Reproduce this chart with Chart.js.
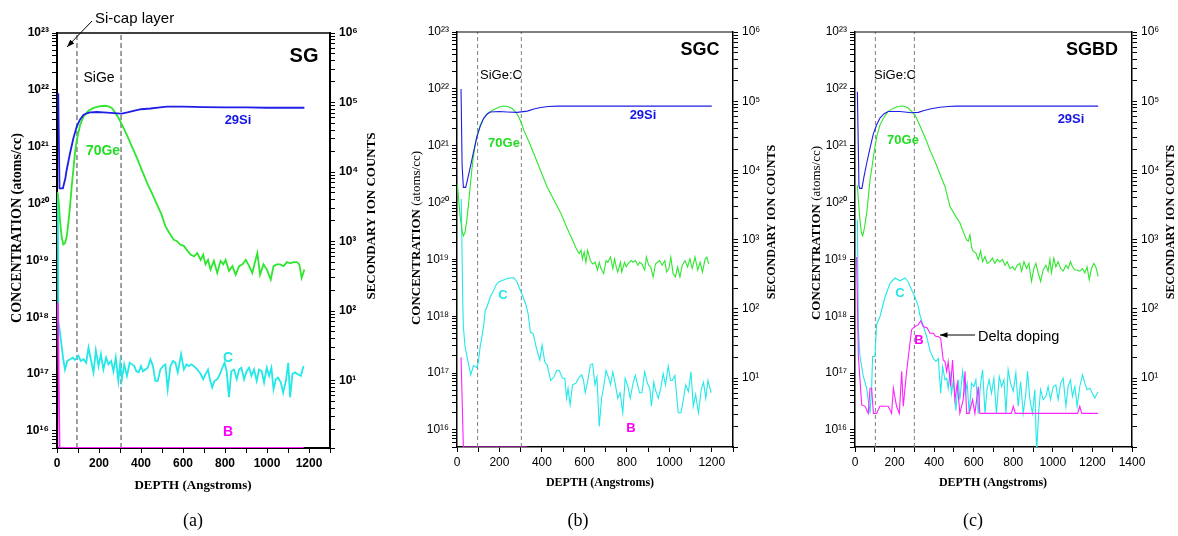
<!DOCTYPE html>
<html>
<head>
<meta charset="utf-8">
<script src="https://cdn.jsdelivr.net/npm/chart.js@4.4.1/dist/chart.umd.min.js"></script>
<style>
  body { margin: 0; background: #fff; }
  #wrap { position: relative; width: 1178px; height: 536px; overflow: hidden; }
  canvas { position: absolute; top: 0; }
</style>
</head>
<body>
<div id="wrap">
  <canvas id="panel-a" width="400" height="536" style="left:0px"></canvas>
  <canvas id="panel-b" width="390" height="536" style="left:400px"></canvas>
  <canvas id="panel-c" width="388" height="536" style="left:790px"></canvas>
</div>
<script>
// ---- panel (a) SG ----
const depthSiA = [6, 12, 28, 40, 46, 62, 78, 94, 110, 126, 142, 158, 190, 221, 255, 285, 309, 335, 365, 400, 445, 490, 524, 600, 700, 800, 900, 1000, 1100, 1178];
const siA = [1.36e5, 5.8e3, 5.8e3, 8.2e3, 1.07e4, 1.86e4, 3.06e4, 4.5e4, 5.7e4, 6.6e4, 7.0e4, 7.2e4, 7.3e4, 7.2e4, 7.1e4, 7.0e4, 6.9e4, 7.2e4, 7.6e4, 8.0e4, 8.2e4, 8.5e4, 8.7e4, 8.7e4, 8.6e4, 8.5e4, 8.5e4, 8.4e4, 8.4e4, 8.4e4];

const depthGeA = [2, 8, 14, 22, 30, 38, 46, 54, 62, 70, 78, 86, 94, 110, 126, 150, 174, 200, 229, 245,
  261, 277, 293, 313, 333, 357, 381, 405, 429, 453, 477, 497, 516, 536, 556, 570, 586, 604, 620, 636,
  652, 668, 684, 696, 707, 719, 731, 747, 763, 779, 792, 803, 819, 835, 851, 867, 883, 899, 915, 930,
  942, 954, 967, 983, 999, 1018, 1031, 1047, 1063, 1079, 1095, 1111, 1126, 1142, 1154, 1165, 1178];
const geA = [1.6e20, 1.1e20, 5.2e19, 2.6e19, 1.9e19, 2.0e19, 2.6e19, 4.5e19, 8.9e19, 2.0e20, 4.0e20, 8.0e20, 1.3e21, 2.4e21, 3.4e21, 4.3e21, 4.8e21, 5.1e21, 5.25e21, 5.1e21,
  4.8e21, 4.0e21, 3.2e21, 2.3e21, 1.6e21, 1.0e21, 6.3e20, 3.8e20, 2.3e20, 1.5e20, 9.5e19, 6.5e19, 4.0e19, 3.0e19, 2.3e19, 2.2e19, 1.9e19, 1.8e19, 1.5e19, 1.26e19,
  1.17e19, 1.35e19, 1.02e19, 1.26e19, 8.5e18, 1.02e19, 6.9e18, 9.8e18, 6.0e18, 9.8e18, 8.5e18, 1.02e19, 6.5e18, 7.9e18, 5.6e18, 7.9e18, 8.5e18, 1.02e19, 7.9e18, 6.0e18,
  9.1e18, 1.35e19, 5.6e18, 8.5e18, 6.9e18, 4.6e18, 7.9e18, 8.5e18, 8.5e18, 7.9e18, 9.3e18, 8.9e18, 9.3e18, 9.3e18, 8.5e18, 4.9e18, 6.9e18];

const depthCA = [4, 6, 14, 22, 30, 38, 49, 63, 75, 86, 102, 113, 126, 139, 150, 161, 174, 185, 198, 209,
  221, 234, 245, 258, 269, 280, 292, 301, 309, 320, 333, 346, 357, 368, 378, 389, 400, 409, 421, 432,
  445, 457, 468, 480, 492, 505, 516, 527, 540, 553, 564, 575, 591, 604, 617, 628, 639, 652, 668, 684,
  696, 707, 719, 728, 739, 750, 763, 776, 787, 798, 808, 819, 830, 843, 856, 867, 878, 891, 903, 915,
  926, 938, 951, 962, 975, 986, 999, 1010, 1021, 1031, 1042, 1053, 1066, 1077, 1090, 1101, 1110, 1121, 1133, 1145,
  1161, 1174];
const cA = [1.5e20, 9e17, 5.4e17, 3.1e17, 1.8e17, 1.2e17, 1.7e17, 1.82e17, 1.95e17, 1.77e17, 2.1e17, 1.7e17, 1.82e17, 1.58e17, 2.9e17, 1.82e17, 1.07e17, 2.6e17, 1.38e17, 2.24e17,
  1.2e17, 1.95e17, 1.48e17, 1.7e17, 1.12e17, 1.95e17, 7.6e16, 1.58e17, 8.1e16, 1.48e17, 9.3e16, 1.58e17, 1.48e17, 1.38e17, 1.12e17, 1.07e17, 1.38e17, 1.12e17, 1.2e17, 1.29e17,
  1.82e17, 1.38e17, 7.6e16, 7.6e16, 1.2e17, 1.38e17, 1.48e17, 5.4e16, 1.38e17, 1.7e17, 1.58e17, 1.07e17, 2.24e17, 1.2e17, 1.48e17, 1.38e17, 1.48e17, 1.38e17, 1.2e17, 1.0e17,
  8.1e16, 1.0e17, 1.2e17, 8.1e16, 5.8e16, 7.6e16, 8.1e16, 1.0e17, 1.29e17, 1.58e17, 1.12e17, 3.9e16, 1.12e17, 1.2e17, 8.1e16, 1.2e17, 1.29e17, 8.1e16, 1.12e17, 1.29e17,
  9.3e16, 1.2e17, 7.6e16, 1.2e17, 1.12e17, 7.1e16, 1.29e17, 9.3e16, 1.29e17, 5.4e16, 8.1e16, 8.7e16, 7.1e16, 4.7e16, 7.6e16, 1.58e17, 3.9e16, 1.0e17, 1.07e17, 1.0e17,
  9.3e16, 1.38e17];

const depthBA = [4, 12, 1175];
const bA = [1.8e18, 5e15, 5e15];
const layersA = [95, 305];

// ---- panel (b) SGC ----
const depthSiB = [19, 24, 30, 41, 50, 62, 77, 93, 109, 125, 141, 157, 200, 236, 283, 331, 362, 394, 430, 473, 600, 800, 1000, 1200];
const siB = [1.5e5, 1.2e4, 5.7e3, 5.7e3, 7.5e3, 1.1e4, 1.8e4, 3.0e4, 4.3e4, 5.6e4, 6.5e4, 7.0e4, 7.1e4, 7.0e4, 6.9e4, 7.2e4, 7.7e4, 8.1e4, 8.4e4, 8.5e4, 8.5e4, 8.5e4, 8.5e4, 8.5e4];

const depthGeB = [2, 10, 17, 24, 30, 38, 46, 54, 62, 70, 77, 85, 93, 109, 125, 148, 172, 200, 220, 240,
  260, 280, 291, 303, 315, 338, 362, 393, 425, 457, 489, 515, 544, 560,
  575, 584, 591, 599, 607, 615, 628, 639, 650, 662, 670, 678, 691, 702, 710, 723, 734, 742, 750, 757,
  770, 776, 789, 797, 805, 821, 829, 840, 852, 860, 871, 884, 892, 903, 912, 924, 935, 944, 955, 966,
  979, 987, 998, 1007, 1018, 1029, 1039, 1050, 1061, 1074, 1086, 1097, 1108, 1121, 1134, 1145, 1156, 1169, 1177, 1185];
const geB = [2.1e20, 9e19, 4.9e19, 3.2e19, 2.6e19, 3.0e19, 4.9e19, 9e19, 1.9e20, 3.8e20, 6.3e20, 1.0e21, 1.45e21, 2.3e21, 3.0e21, 3.8e21, 4.3e21, 4.8e21, 5.0e21, 4.9e21,
  4.5e21, 3.8e21, 3.2e21, 2.5e21, 1.86e21, 1.2e21, 7.2e20, 3.7e20, 1.86e20, 1.1e20, 6.5e19, 3.8e19, 2.2e19, 1.6e19,
  1.26e19, 1.45e19, 1.02e19, 1.35e19, 8.9e18, 1.45e19, 9.5e18, 8.3e18, 8.9e18, 6.5e18, 8.9e18, 6.9e18, 5.6e18, 9.5e18, 8.9e18, 1.1e19, 6.9e18, 1.02e19, 7.4e18, 6.0e18,
  8.9e18, 6.0e18, 8.9e18, 7.4e18, 8.3e18, 9.5e18, 8.9e18, 9.5e18, 7.9e18, 8.9e18, 8.3e18, 6.5e18, 1.1e19, 7.9e18, 7.4e18, 4.9e18, 8.3e18, 8.9e18, 9.5e18, 7.9e18,
  9.5e18, 6.0e18, 6.9e18, 1.1e19, 5.6e18, 4.9e18, 7.4e18, 4.9e18, 7.9e18, 9.5e18, 7.4e18, 1.02e19, 6.9e18, 1.1e19, 6.5e18, 8.9e18, 6.0e18, 1.02e19, 1.1e19, 8.3e18];

const depthCB = [20, 27, 30, 38, 54, 65, 77, 93, 100, 109, 117, 125, 133, 141, 157, 172, 185, 196, 210, 236,
  250, 267, 283, 299, 311, 323, 335, 346, 359, 374, 390, 401, 413, 425, 441, 457, 470, 481, 497, 508,
  516, 523, 533, 544, 560, 572, 587, 596, 604, 615, 628, 639, 650, 659, 670, 681, 691, 702, 713, 723,
  734, 745, 757, 768, 781, 792, 805, 816, 829, 840, 849, 860, 871, 884, 897, 908, 916, 927, 935, 948,
  960, 971, 982, 995, 1006, 1014, 1026, 1042, 1055, 1066, 1077, 1090, 1102, 1113, 1124, 1137, 1150, 1161, 1172, 1182, 1197];
const cB = [1.15e20, 1.9e18, 6.5e17, 2.9e17, 1.45e17, 9.3e16, 1.35e17, 1.25e17, 1.5e17, 2.9e17, 4.3e17, 6.5e17, 1.26e18, 1.45e18, 2.2e18, 2.8e18, 3.6e18, 4.0e18, 4.2e18, 4.6e18,
  4.7e18, 4.8e18, 4.0e18, 2.8e18, 2.2e18, 1.66e18, 1.1e18, 5.2e17, 4.9e17, 2.75e17, 1.7e17, 3.1e17, 1.58e17, 1.38e17, 7.4e16, 8.5e16, 1.12e17, 1.12e17, 8.1e16, 8.1e16,
  3.6e16, 5.4e16, 2.75e16, 6.2e16, 6.6e16, 8.1e16, 9.3e16, 7.4e16, 4.5e16, 6.9e16, 1.38e17, 1.45e17, 6.2e16, 8.5e16, 1.15e16, 3.6e16, 5.8e16, 1.12e17, 8.5e16, 6.2e16,
  1.05e17, 6.6e16, 3.6e16, 4.5e16, 2.0e16, 8.1e16, 5.8e16, 3.6e16, 6.6e16, 9.1e16, 6.6e16, 4.5e16, 4.5e16, 1.05e17, 6.6e16, 5.4e16, 2.6e16, 6.9e16, 5.0e16, 3.6e16,
  5.4e16, 9.8e16, 6.2e16, 1.32e17, 7.4e16, 7.4e16, 9.1e16, 2.0e16, 2.0e16, 3.4e16, 6.2e16, 4.7e16, 1.05e17, 2.6e16, 4.2e16, 2.0e16, 5.0e16, 6.9e16, 3.6e16, 7.4e16, 4.5e16];

const depthBB = [19, 30, 330];
const bB = [1.9e17, 5e15, 5e15];
const layersB = [97, 303];

// ---- panel (c) SGBD ----
const depthSiC = [12, 20, 24, 35, 45, 59, 76, 93, 110, 126, 147, 168, 227, 286, 320, 345, 385, 429, 470, 514, 700, 900, 1100, 1229];
const siC = [1.37e5, 6e3, 5.5e3, 5.5e3, 8e3, 1.27e4, 2.1e4, 3.4e4, 4.6e4, 5.7e4, 6.6e4, 7.1e4, 7.1e4, 6.8e4, 6.9e4, 7.3e4, 7.8e4, 8.2e4, 8.4e4, 8.5e4, 8.5e4, 8.5e4, 8.5e4, 8.5e4];

const depthGeC = [12, 18, 25, 32, 39, 48, 59, 68, 76, 85, 93, 110, 126, 143, 164, 185, 210, 236, 253, 269,
  286, 303, 320, 337, 358, 379, 404, 429, 455, 480, 505, 530, 548, 564, 573, 581, 590,
  598, 611, 623, 635, 645, 657, 668, 682, 695, 707, 719, 732, 746, 758, 769, 783, 796, 808, 820, 833,
  842, 854, 867, 879, 892, 904, 914, 926, 938, 951, 965, 976, 985, 993, 1005, 1015, 1027, 1039, 1052, 1066,
  1077, 1089, 1099, 1111, 1123, 1136, 1150, 1162, 1173, 1184, 1195, 1207, 1217, 1229];
const geC = [2.0e20, 1.0e20, 4.9e19, 3.0e19, 2.6e19, 3.6e19, 6.5e19, 1.3e20, 2.5e20, 4.0e20, 6.5e20, 1.45e21, 2.3e21, 3.0e21, 3.9e21, 4.4e21, 4.8e21, 5.0e21, 4.9e21, 4.6e21,
  4.0e21, 3.5e21, 2.6e21, 1.9e21, 1.3e21, 8.3e20, 5.3e20, 3.2e20, 1.9e20, 8.5e19, 6.0e19, 4.4e19, 3.0e19, 2.2e19, 2.1e19, 2.7e19, 1.6e19,
  1.38e19, 1.29e19, 1.0e19, 1.41e19, 9.1e18, 1.12e19, 8.5e18, 9.1e18, 1.05e19, 8.5e18, 1.0e19, 9.1e18, 1.0e19, 7.9e18, 9.1e18, 6.9e18, 7.4e18, 6.5e18, 7.9e18, 8.5e18,
  6.2e18, 9.1e18, 6.9e18, 8.5e18, 4.1e18, 6.9e18, 8.5e18, 5.8e18, 4.1e18, 6.5e18, 7.9e18, 6.2e18, 1.0e19, 5.8e18, 1.05e19, 7.4e18, 9.1e18, 6.9e18, 6.2e18, 7.9e18,
  6.9e18, 9.1e18, 7.4e18, 6.5e18, 6.5e18, 6.2e18, 6.9e18, 5.8e18, 7.4e18, 4.4e18, 6.9e18, 8.5e18, 7.4e18, 5.0e18];

const depthCC = [12, 17, 25, 42, 59, 76, 84, 89, 101, 106, 109, 126, 152, 177, 202, 227, 253, 269, 286, 303,
  320, 328, 362, 379, 396, 409, 421, 433, 443, 455, 463, 471, 480, 488, 497, 510, 522, 530, 544, 556,
  567, 577, 589, 601, 611, 623, 635, 645, 657, 668, 678, 690, 702, 715, 729, 741, 753, 763, 774, 786,
  800, 813, 825, 837, 850, 862, 872, 884, 897, 909, 918, 928, 938, 951, 965, 976, 988, 1002, 1015, 1027,
  1039, 1052, 1066, 1077, 1089, 1099, 1111, 1123, 1136, 1150, 1162, 1173, 1187, 1200, 1212, 1224, 1229];
const cC = [5e19, 6e17, 1.95e17, 8.7e16, 5.4e16, 1.95e16, 5.4e16, 1.95e17, 1.95e17, 4.4e17, 7.1e17, 9.8e17, 2.2e18, 3.8e18, 4.7e18, 4.2e18, 4.7e18, 4.0e18, 2.9e18, 2.2e18,
  1.48e18, 1.05e18, 4.4e17, 2.5e17, 1.8e17, 1.6e17, 1.8e17, 4.4e16, 1.3e17, 7.6e16, 8.1e16, 5.4e16, 1.07e17, 4.4e16, 7.6e16, 2.2e16, 7.6e16, 3.4e16, 1.07e17, 4.4e16,
  6.6e16, 1.95e16, 6.6e16, 5.8e16, 7.6e16, 1.95e16, 6.6e16, 1.14e17, 1.95e16, 5.4e16, 7.6e16, 4.4e16, 8.1e16, 1.95e16, 8.7e16, 5.8e16, 7.6e16, 1.95e16, 1.14e17, 6.6e16,
  4.8e16, 1.0e17, 2.6e16, 7.1e16, 1.95e16, 3.9e16, 1.07e17, 3.4e16, 1.95e16, 5.1e16, 4e15, 1.95e16, 5.1e16, 3.4e16, 3.9e16, 5.8e16, 3.4e16, 5.8e16, 6.2e16, 3.4e16,
  6.6e16, 8.1e16, 2.6e16, 5.8e16, 7.6e16, 3.9e16, 5.8e16, 2.6e16, 5.8e16, 9.3e16, 6.6e16, 5.1e16, 5.4e16, 4.4e16, 3.6e16, 4.4e16, 4.6e16];

const depthBC = [8, 17, 34, 51, 67, 76, 84, 93, 109, 126, 168, 185, 194, 210, 224, 236, 244, 261, 274, 286,
  303, 320, 332, 345, 365, 379, 396, 409, 421, 433, 446, 455, 463, 471, 483, 493, 505, 517, 530, 547,
  556, 564, 577, 594, 606, 623, 631, 648, 790, 800, 810, 1125, 1136, 1146, 1229];
const bC = [1.1e19, 1.95e17, 2.75e16, 2.6e16, 1.95e16, 5.4e16, 5.4e16, 1.95e16, 1.95e16, 2.6e16, 2.6e16, 1.95e16, 5.4e16, 2.6e16, 1.95e16, 1.07e17, 2.6e16, 1.07e17, 2.6e17, 5.8e17,
  6.6e17, 7.1e17, 8.3e17, 6.6e17, 6.2e17, 5.0e17, 5.0e17, 4.4e17, 4.4e17, 4.1e17, 1.7e17, 1.58e17, 1.07e17, 1.58e17, 5.8e16, 1.7e17, 3.4e16, 6.6e16, 1.95e16, 3.4e16,
  1.07e17, 1.95e16, 1.95e16, 3.4e16, 1.95e16, 5.8e16, 1.95e16, 1.95e16, 1.95e16, 2.6e16, 1.95e16, 1.95e16, 2.6e16, 1.95e16, 1.95e16];
const layersC = [103, 300];

const concRange = [5e15, 1e23];

const COR = { si: "#1e1ee6", ge: "#2ee62e", c: "#22e8e8", b: "#ff22ff", layer: "#808080" };
const SANS = "'Liberation Sans', Arial, sans-serif";
const SERIF = "'Liberation Serif', 'Times New Roman', serif";
const SUP = { "0": "⁰", "1": "¹", "2": "²", "3": "³", "4": "⁴", "5": "⁵", "6": "⁶", "7": "⁷", "8": "⁸", "9": "⁹" };

function zip(xs, ys) {
  return xs.map((x, i) => ({ x, y: ys[i] }));
}

function rotulo10(v) {
  const e = Math.log10(v);
  if (Math.abs(e - Math.round(e)) > 1e-6) return "";
  return "10" + String(Math.round(e)).split("").map(d => SUP[d]).join("");
}

// log axis in Chart.js adds a 1.5x tick per decade; the original only has 1..9
function tirarMeio(scale) {
  scale.ticks = scale.ticks.filter(t => {
    const m = t.value / Math.pow(10, Math.floor(Math.log10(t.value) + 1e-9));
    return Math.abs(m - 1.5) > 0.01;
  });
}

const overlay = {
  id: "overlay",
  afterDraw(chart, args, o) {
    const ctx = chart.ctx;
    const a = chart.chartArea;
    ctx.save();
    ctx.strokeStyle = "#000";
    ctx.lineWidth = o.frame;
    ctx.beginPath();
    ctx.moveTo(a.left, a.top);
    ctx.lineTo(a.right, a.top);
    ctx.stroke();

    for (const t of o.texts) {
      ctx.save();
      ctx.translate(t.x - o.offset, t.y);
      if (t.rot) ctx.rotate(-Math.PI / 2);
      ctx.textBaseline = "middle";
      ctx.fillStyle = t.color || "#000";
      const parts = t.parts || [{ s: t.s, font: t.font }];
      let total = 0;
      parts.forEach(p => { ctx.font = p.font; p.w = ctx.measureText(p.s).width; total += p.w; });
      let x = t.align === "left" ? 0 : -total / 2;
      parts.forEach(p => { ctx.font = p.font; ctx.textAlign = "left"; ctx.fillText(p.s, x, 0); x += p.w; });
      ctx.restore();
    }

    for (const s of o.arrows) {
      const x1 = s.x1 - o.offset, x2 = s.x2 - o.offset;
      const ang = Math.atan2(s.y2 - s.y1, x2 - x1);
      ctx.strokeStyle = "#000";
      ctx.fillStyle = "#000";
      ctx.lineWidth = 1;
      ctx.beginPath();
      ctx.moveTo(x1, s.y1);
      ctx.lineTo(x2, s.y2);
      ctx.stroke();
      ctx.beginPath();
      ctx.moveTo(x2, s.y2);
      ctx.lineTo(x2 - 8 * Math.cos(ang - 0.35), s.y2 - 8 * Math.sin(ang - 0.35));
      ctx.lineTo(x2 - 8 * Math.cos(ang + 0.35), s.y2 - 8 * Math.sin(ang + 0.35));
      ctx.closePath();
      ctx.fill();
    }
    ctx.restore();
  }
};

function serie(xs, ys, cor, lw, eixo) {
  return { data: zip(xs, ys), borderColor: cor, borderWidth: lw, yAxisID: eixo || "y", pointRadius: 0, fill: false, tension: 0 };
}

function camada(x, lw, dash) {
  return { data: zip([x, x], concRange), borderColor: COR.layer, borderWidth: lw, borderDash: dash, yAxisID: "y", pointRadius: 0, fill: false };
}

function desenharPainel(id, p) {
  const tickFont = { family: SANS, size: 12, weight: p.bold ? "bold" : "normal" };
  const eixo = { color: "#000", width: p.axisW };
  const grade = { drawOnChartArea: false, drawTicks: true, tickLength: 5, tickColor: "#000", tickWidth: 1 };

  return new Chart(document.getElementById(id), {
    type: "line",
    data: {
      datasets: [
        serie(p.si[0], p.si[1], COR.si, p.lw, "y2"),
        serie(p.ge[0], p.ge[1], COR.ge, p.lw),
        serie(p.b[0], p.b[1], COR.b, p.lw),
        serie(p.c[0], p.c[1], COR.c, p.lw),
        camada(p.layers[0], p.dashW, p.dash),
        camada(p.layers[1], p.dashW, p.dash)
      ]
    },
    options: {
      responsive: false,
      animation: false,
      layout: { padding: { top: p.top, left: 0, right: 0, bottom: 0 } },
      plugins: {
        legend: { display: false },
        tooltip: { enabled: false },
        overlay: { offset: p.offset, frame: p.frameW, texts: p.texts, arrows: p.arrows }
      },
      scales: {
        x: {
          type: "linear",
          min: 0,
          max: p.xMax,
          afterFit: s => { s.height = 536 - p.bottom; },
          ticks: {
            stepSize: 100,
            autoSkip: false,
            maxRotation: 0,
            padding: 3,
            color: "#000",
            font: tickFont,
            callback: v => (Math.round(v) % 200 === 0 ? Math.round(v) : "")
          },
          grid: grade,
          border: eixo
        },
        y: {
          type: "logarithmic",
          position: "left",
          min: concRange[0],
          max: concRange[1],
          afterFit: s => { s.width = p.left; },
          afterBuildTicks: tirarMeio,
          ticks: { autoSkip: false, padding: 3, color: "#000", font: tickFont, callback: v => rotulo10(v) },
          grid: grade,
          border: eixo
        },
        y2: {
          type: "logarithmic",
          position: "right",
          min: p.y2Min,
          max: 1e6,
          afterFit: s => { s.width = p.width - p.right; },
          afterBuildTicks: tirarMeio,
          ticks: { autoSkip: false, padding: 4, color: "#000", font: tickFont, callback: v => rotulo10(v) },
          grid: grade,
          border: eixo
        }
      }
    },
    plugins: [overlay]
  });
}

function fonte(peso, tam, fam) {
  return `${peso} ${tam}px ${fam}`;
}

document.addEventListener("DOMContentLoaded", () => {
  desenharPainel("panel-a", {
    offset: 0, width: 400, left: 57, right: 330, top: 33, bottom: 448, xMax: 1300, y2Min: 1.07,
    bold: true, axisW: 2, frameW: 1.5, lw: 1.8, dashW: 1.5, dash: [5, 3],
    si: [depthSiA, siA], ge: [depthGeA, geA], c: [depthCA, cA], b: [depthBA, bA], layers: layersA,
    texts: [
      { s: "Si-cap layer", font: fonte("normal", 15, SANS), x: 95, y: 19, align: "left" },
      { s: "SiGe", font: fonte("normal", 14, SANS), x: 99, y: 78 },
      { s: "SG", font: fonte("bold", 20, SANS), x: 304, y: 56 },
      { s: "29Si", font: fonte("bold", 13, SANS), x: 238, y: 120, color: "#1515e8" },
      { s: "70Ge", font: fonte("bold", 14, SANS), x: 103, y: 151, color: "#22dd22" },
      { s: "C", font: fonte("bold", 14, SANS), x: 228, y: 358, color: "#22e6e6" },
      { s: "B", font: fonte("bold", 14, SANS), x: 228, y: 432, color: "#ff00ff" },
      { s: "CONCENTRATION (atoms/cc)", font: fonte("bold", 14, SERIF), x: 17, y: 228, rot: true },
      { s: "SECONDARY ION COUNTS", font: fonte("bold", 13, SERIF), x: 372, y: 216, rot: true },
      { s: "DEPTH (Angstroms)", font: fonte("bold", 13, SERIF), x: 193, y: 486 },
      { s: "(a)", font: fonte("normal", 18, SERIF), x: 193, y: 521 }
    ],
    arrows: [{ x1: 92, y1: 21, x2: 67, y2: 47 }]
  });

  desenharPainel("panel-b", {
    offset: 400, width: 390, left: 57, right: 333, top: 32, bottom: 447, xMax: 1300, y2Min: 1.01,
    bold: false, axisW: 1.5, frameW: 1.2, lw: 1.1, dashW: 1, dash: [4, 3],
    si: [depthSiB, siB], ge: [depthGeB, geB], c: [depthCB, cB], b: [depthBB, bB], layers: layersB,
    texts: [
      { s: "SiGe:C", font: fonte("normal", 13, SANS), x: 501, y: 75 },
      { s: "SGC", font: fonte("bold", 18, SANS), x: 700, y: 50 },
      { s: "29Si", font: fonte("bold", 13, SANS), x: 643, y: 115, color: "#1515e8" },
      { s: "70Ge", font: fonte("bold", 13, SANS), x: 504, y: 143, color: "#22dd22" },
      { s: "C", font: fonte("bold", 13, SANS), x: 503, y: 295, color: "#22e6e6" },
      { s: "B", font: fonte("bold", 13, SANS), x: 631, y: 428, color: "#ff00ff" },
      { parts: [{ s: "CONCENTRATION ", font: fonte("bold", 13, SERIF) }, { s: "(atoms/cc)", font: fonte("normal", 13, SERIF) }], x: 417, y: 238, rot: true },
      { s: "SECONDARY ION COUNTS", font: fonte("bold", 12, SERIF), x: 772, y: 222, rot: true },
      { s: "DEPTH (Angstroms)", font: fonte("bold", 12, SERIF), x: 600, y: 483 },
      { s: "(b)", font: fonte("normal", 18, SERIF), x: 578, y: 521 }
    ],
    arrows: []
  });

  desenharPainel("panel-c", {
    offset: 790, width: 388, left: 65, right: 342, top: 32, bottom: 447, xMax: 1400, y2Min: 1.01,
    bold: false, axisW: 1.5, frameW: 1.2, lw: 1.1, dashW: 1, dash: [4, 3],
    si: [depthSiC, siC], ge: [depthGeC, geC], c: [depthCC, cC], b: [depthBC, bC], layers: layersC,
    texts: [
      { s: "SiGe:C", font: fonte("normal", 13, SANS), x: 895, y: 75 },
      { s: "SGBD", font: fonte("bold", 18, SANS), x: 1092, y: 50 },
      { s: "29Si", font: fonte("bold", 13, SANS), x: 1071, y: 119, color: "#1515e8" },
      { s: "70Ge", font: fonte("bold", 13, SANS), x: 903, y: 140, color: "#22dd22" },
      { s: "C", font: fonte("bold", 13, SANS), x: 900, y: 293, color: "#22e6e6" },
      { s: "B", font: fonte("bold", 13, SANS), x: 919, y: 340, color: "#ff00ff" },
      { s: "Delta doping", font: fonte("normal", 14.5, SANS), x: 978, y: 337, align: "left" },
      { parts: [{ s: "CONCENTRATION ", font: fonte("bold", 13, SERIF) }, { s: "(atoms/cc)", font: fonte("normal", 13, SERIF) }], x: 817, y: 233, rot: true },
      { s: "SECONDARY ION COUNTS", font: fonte("bold", 12, SERIF), x: 1171, y: 222, rot: true },
      { s: "DEPTH (Angstroms)", font: fonte("bold", 12, SERIF), x: 993, y: 483 },
      { s: "(c)", font: fonte("normal", 18, SERIF), x: 973, y: 521 }
    ],
    arrows: [{ x1: 975, y1: 335, x2: 940, y2: 335 }]
  });
});
</script>
</body>
</html>
